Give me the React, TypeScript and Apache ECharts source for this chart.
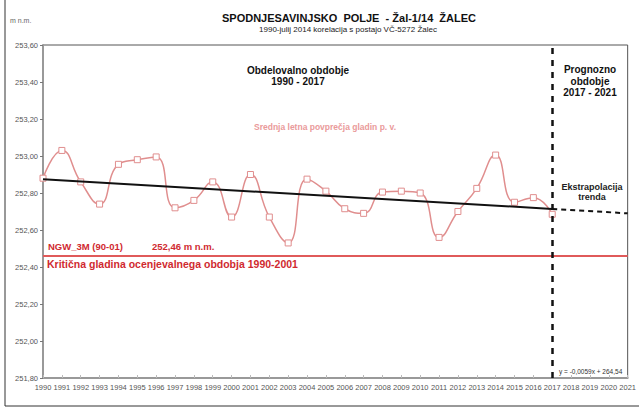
import React, { useEffect, useRef } from "react";
import * as echarts from "echarts";

const years = [1990, 1991, 1992, 1993, 1994, 1995, 1996, 1997, 1998, 1999, 2000, 2001, 2002, 2003, 2004, 2005, 2006, 2007, 2008, 2009, 2010, 2011, 2012, 2013, 2014, 2015, 2016, 2017];
const levels = [252.88, 253.03, 252.86, 252.74, 252.955, 252.98, 252.995, 252.72, 252.76, 252.86, 252.67, 252.90, 252.67, 252.53, 252.875, 252.81, 252.715, 252.69, 252.805, 252.81, 252.80, 252.56, 252.70, 252.825, 253.005, 252.75, 252.775, 252.685];
const trendObserved = [[1990, 252.874], [2017, 252.714]];
const trendForecast = [[2017, 252.714], [2021, 252.69]];
const ngwLevel = 252.46;
const splitYear = 2017;
const yTicks = { min: 251.8, max: 253.6, step: 0.2 };
const xRange = { min: 1990, max: 2021 };

const FONT = "Liberation Sans, Arial, sans-serif";

export default function App() {
  const ref = useRef<HTMLDivElement>(null);
  useEffect(() => {
    if (!ref.current) return;
    const chart = echarts.init(ref.current, undefined, { renderer: "svg" });
    const pink = "#e08e8e";
    const red = "#d02a30";
    chart.setOption({
      animation: false,
      backgroundColor: "#ffffff",
      textStyle: { fontFamily: FONT },
      grid: { left: 43, right: 9, top: 45, bottom: 31, show: true, borderColor: "#555", borderWidth: 1 },
      xAxis: {
        type: "value",
        min: xRange.min,
        max: xRange.max,
        interval: 1,
        axisLine: { show: true, lineStyle: { color: "#999", width: 2 } },
        axisTick: { show: true, inside: true, length: 3, lineStyle: { color: "#bbb" } },
        splitLine: { show: false },
        axisLabel: { fontSize: 7.5, color: "#555", margin: 5, fontFamily: FONT, showMinLabel: true, showMaxLabel: true, formatter: (v: number) => String(v) },
      },
      yAxis: {
        type: "value",
        min: yTicks.min,
        max: yTicks.max,
        interval: yTicks.step,
        axisLine: { show: true, lineStyle: { color: "#999", width: 2 } },
        axisTick: { show: true, length: 3, lineStyle: { color: "#777" } },
        splitLine: { show: false },
        axisLabel: { fontSize: 7.5, color: "#555", margin: 5, fontFamily: FONT, formatter: (v: number) => v.toFixed(2).replace(".", ",") },
      },
      series: [
        {
          type: "line",
          data: [[xRange.min, ngwLevel], [xRange.max, ngwLevel]],
          symbol: "none",
          lineStyle: { color: "#e05a5a", width: 2 },
          z: 2,
        },
        {
          type: "line",
          data: years.map((y, i) => [y, levels[i]]),
          smooth: 0.5,
          symbol: "rect",
          symbolSize: 6,
          itemStyle: { color: "#fff", borderColor: pink, borderWidth: 1 },
          lineStyle: { color: pink, width: 1.5 },
          z: 3,
        },
        {
          type: "line",
          data: trendObserved,
          symbol: "none",
          lineStyle: { color: "#111", width: 2 },
          z: 4,
        },
        {
          type: "line",
          data: trendForecast,
          symbol: "none",
          lineStyle: { color: "#111", width: 2, type: [5, 4] },
          z: 4,
          markLine: {
            silent: true,
            symbol: "none",
            label: { show: false },
            lineStyle: { color: "#111", width: 2.5, type: [6, 6] },
            data: [{ xAxis: splitYear }],
          },
        },
      ],
      graphic: [
        { type: "rect", shape: { x: 5, y: -2, width: 640, height: 408 }, style: { fill: "none", stroke: "#333", lineWidth: 1 }, silent: true },
        { type: "text", x: 10, y: 20, style: { text: "m n.m.", font: `7px ${FONT}`, fill: "#666", textVerticalAlign: "middle" } },
        { type: "text", x: 349, y: 18, style: { text: "SPODNJESAVINJSKO  POLJE  - Žal-1/14  ŽALEC", font: `bold 11px ${FONT}`, fill: "#111", textAlign: "center", textVerticalAlign: "middle" } },
        { type: "text", x: 348, y: 29, style: { text: "1990-julij 2014 korelacija s postajo VČ-5272 Žalec", font: `8px ${FONT}`, fill: "#222", textAlign: "center", textVerticalAlign: "middle" } },
        { type: "text", x: 298, y: 76, style: { text: "Obdelovalno obdobje\n1990 - 2017", font: `bold 10px ${FONT}`, fill: "#111", textAlign: "center", textVerticalAlign: "middle", lineHeight: 11.5 } },
        { type: "text", x: 590, y: 81, style: { text: "Prognozno\nobdobje\n2017 - 2021", font: `bold 10px ${FONT}`, fill: "#111", textAlign: "center", textVerticalAlign: "middle", lineHeight: 11.5 } },
        { type: "text", x: 325, y: 127, style: { text: "Srednja letna povprečja gladin p. v.", font: `bold 8.5px ${FONT}`, fill: "#ea9a9a", textAlign: "center", textVerticalAlign: "middle" } },
        { type: "text", x: 592, y: 192, style: { text: "Ekstrapolacija\ntrenda", font: `bold 9px ${FONT}`, fill: "#222", textAlign: "center", textVerticalAlign: "middle", lineHeight: 10.5 } },
        { type: "text", x: 48, y: 246, style: { text: "NGW_3M (90-01)", font: `bold 9.5px ${FONT}`, fill: red, textVerticalAlign: "middle" } },
        { type: "text", x: 152, y: 246, style: { text: "252,46 m n.m.", font: `bold 9.5px ${FONT}`, fill: red, textVerticalAlign: "middle" } },
        { type: "text", x: 47, y: 264, style: { text: "Kritična gladina ocenjevalnega obdobja 1990-2001", font: `bold 10.5px ${FONT}`, fill: red, textVerticalAlign: "middle" } },
        { type: "text", x: 559, y: 371, style: { text: "y = -0,0059x + 264,54", font: `6.5px ${FONT}`, fill: "#333", textVerticalAlign: "middle" } },
      ],
    });
    return () => chart.dispose();
  }, []);
  return <div ref={ref} style={{ position: "fixed", left: 0, top: 0, width: 639, height: 409 }} />;
}
